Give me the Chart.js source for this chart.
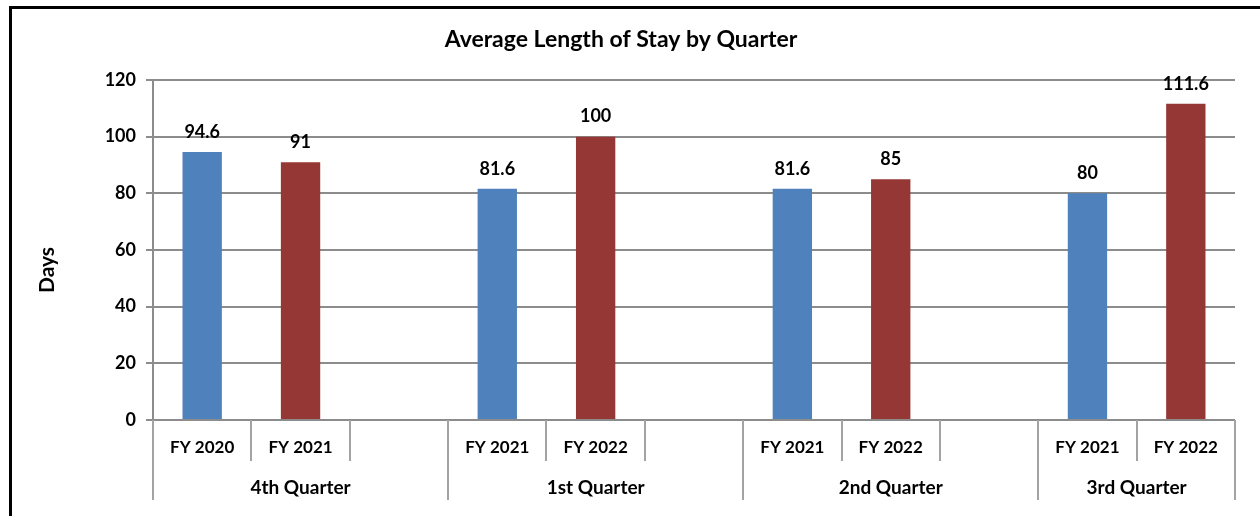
<!DOCTYPE html>
<html>
<head>
<meta charset="utf-8">
<script src="https://cdn.jsdelivr.net/npm/chart.js@4/dist/chart.umd.min.js"></script>
<style>
  html, body { margin: 0; padding: 0; background: #fff; overflow: hidden; }
  #frame {
    position: absolute; left: 9px; top: 6px; width: 1400px; height: 700px;
    border-left: 3px solid #000; border-top: 3px solid #000;
  }
  #wrap { position: absolute; left: 0; top: 0; width: 1242px; height: 516px; }
</style>
</head>
<body>
<div id="frame"></div>
<div id="wrap"><canvas id="los"></canvas></div>
<script>
const chartTitle = 'Average Length of Stay by Quarter';
const yTitle = 'Days';

// one slot per bar, empty slot between quarters
const categories = ['FY 2020', 'FY 2021', '', 'FY 2021', 'FY 2022', '', 'FY 2021', 'FY 2022', '', 'FY 2021', 'FY 2022'];
const quarters = ['4th Quarter', '1st Quarter', '2nd Quarter', '3rd Quarter'];
const quarterSlots = [3, 3, 3, 2];

const earlierYear = [94.6, null, null, 81.6, null, null, 81.6, null, null, 80, null];
const laterYear = [null, 91, null, null, 100, null, null, 85, null, null, 111.6];

const yTicks = [0, 20, 40, 60, 80, 100, 120];

const FONT = 'Lato, "Open Sans", sans-serif';
const gridGray = '#8c8c8c';
const sepGray = '#a3a3a3';

// value labels, title, y title, category separators and quarter labels
const excelBits = {
  id: 'excelBits',
  afterDatasetsDraw(chart) {
    const ctx = chart.ctx;
    ctx.save();
    ctx.fillStyle = '#000';
    ctx.font = `bold 18px ${FONT}`;
    ctx.textAlign = 'center';
    ctx.textBaseline = 'middle';
    chart.data.datasets.forEach((ds, di) => {
      chart.getDatasetMeta(di).data.forEach((bar, i) => {
        const v = ds.data[i];
        if (v === null) return;
        ctx.fillText(String(v), bar.x, bar.y - 20);
      });
    });
    ctx.restore();
  },
  afterDraw(chart) {
    const ctx = chart.ctx;
    const x = chart.scales.x;
    const area = chart.chartArea;
    const half = (x.getPixelForValue(1) - x.getPixelForValue(0)) / 2;
    ctx.save();

    // separators below the axis
    const groupEdges = [0];
    quarterSlots.forEach(n => groupEdges.push(groupEdges[groupEdges.length - 1] + n));
    ctx.strokeStyle = sepGray;
    ctx.lineWidth = 2;
    for (let i = 0; i <= categories.length; i++) {
      const px = Math.round(x.getPixelForValue(i) - half);
      const isGroup = groupEdges.includes(i);
      ctx.beginPath();
      ctx.moveTo(px, area.bottom);
      ctx.lineTo(px, area.bottom + (isGroup ? 80 : 41));
      ctx.stroke();
    }

    // quarter labels
    ctx.fillStyle = '#000';
    ctx.font = `bold 19px ${FONT}`;
    ctx.textAlign = 'center';
    ctx.textBaseline = 'middle';
    quarters.forEach((q, g) => {
      const a = x.getPixelForValue(groupEdges[g]) - half;
      const b = x.getPixelForValue(groupEdges[g + 1]) - half;
      ctx.fillText(q, (a + b) / 2, area.bottom + 68);
    });

    // chart title
    ctx.font = `bold 23px ${FONT}`;
    ctx.fillText(chartTitle, 621, 40);

    // y axis title
    ctx.font = `bold 21px ${FONT}`;
    ctx.translate(47, 270);
    ctx.rotate(-Math.PI / 2);
    ctx.fillText(yTitle, 0, 0);
    ctx.restore();
  }
};

new Chart(document.getElementById('los'), {
  type: 'bar',
  data: {
    labels: categories,
    datasets: [
      { label: 'Earlier year', data: earlierYear, backgroundColor: '#4f81bd' },
      { label: 'Later year', data: laterYear, backgroundColor: '#953735' }
    ]
  },
  options: {
    responsive: true,
    maintainAspectRatio: false,
    animation: false,
    grouped: false,
    barPercentage: 0.4,
    categoryPercentage: 1,
    layout: { padding: { top: 80, right: 7, left: 0, bottom: 0 } },
    plugins: {
      legend: { display: false },
      title: { display: false },
      tooltip: { enabled: false }
    },
    scales: {
      x: {
        grid: { display: false },
        border: { display: false },
        ticks: {
          color: '#000',
          font: { family: FONT, size: 17, weight: 'bold' },
          padding: 9,
          maxRotation: 0,
          autoSkip: false
        },
        afterFit(scale) { scale.height = 96; }
      },
      y: {
        min: 0,
        max: 120,
        afterBuildTicks(scale) { scale.ticks = yTicks.map(v => ({ value: v })); },
        grid: { color: gridGray, lineWidth: 2, tickLength: 7 },
        border: { color: gridGray, width: 2 },
        ticks: {
          color: '#000',
          font: { family: FONT, size: 18, weight: 'bold' },
          padding: 10
        },
        afterFit(scale) { scale.width = 153; }
      }
    }
  },
  plugins: [excelBits]
});
</script>
</body>
</html>
